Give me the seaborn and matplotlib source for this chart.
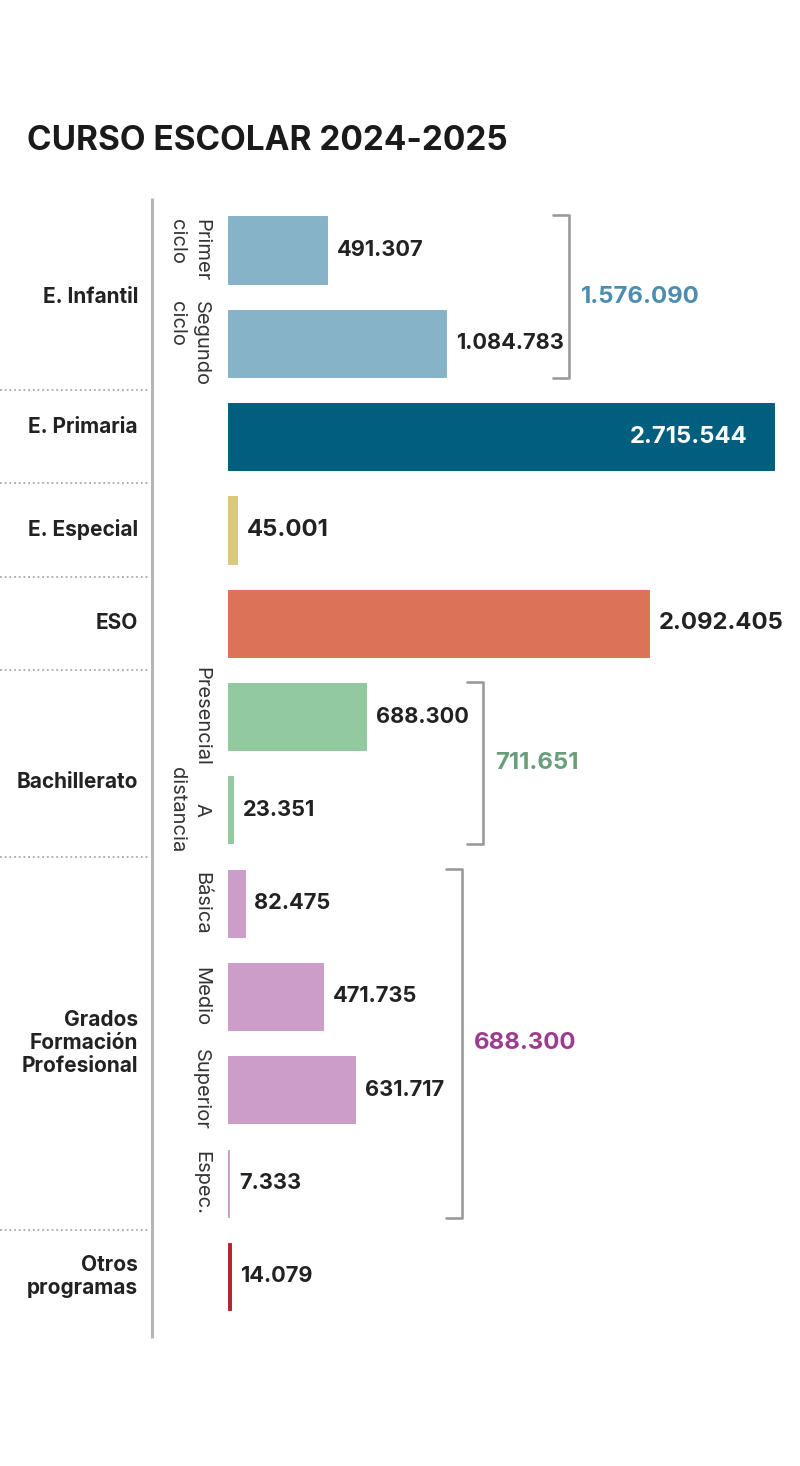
import matplotlib

matplotlib.use("Agg")

import matplotlib.pyplot as plt
import numpy as np
import pandas as pd
import seaborn as sns

# ============================================================
# DATA
# ============================================================

ROWS = [
    "Primer ciclo", "Segundo ciclo", "E. Primaria", "E. Especial", "ESO",
    "Presencial", "A distancia", "Básica", "Medio", "Superior", "Espec.",
    "Otros programas",
]
VALUES = [491307, 1084783, 2715544, 45001, 2092405,
          688300, 23351, 82475, 471735, 631717, 7333, 14079]
SUB_LABELS = ["Primer\nciclo", "Segundo\nciclo", "", "", "",
              "Presencial", "A\ndistancia", "Básica", "Medio", "Superior",
              "Espec.", ""]

GROUPS = ["E. Infantil", "E. Primaria", "E. Especial", "ESO", "Bachillerato",
          "Grados\nFormación\nProfesional", "Otros\nprogramas"]
GROUP_SIZES = [2, 1, 1, 1, 2, 4, 1]
GROUP_COLORS = ["#87b3c9", "#005f7e", "#d8c880", "#dc7357",
                "#92c9a0", "#cc9dc9", "#b3262c"]

# bracketed groups and the totals printed next to them
BRACKET_GROUPS = [0, 4, 5]
BRACKET_TOTALS = [1576090, 711651, 688300]
BRACKET_COLORS = ["#4a8db0", "#6a9e7b", "#9e3a8f"]

TITLE = "CURSO ESCOLAR 2024-2025"

# ============================================================
# LAYOUT
# ============================================================

W_PX, H_PX = 800, 1466
X0_PX = 228                      # pixel where bars start
PX_PER_UNIT = 546 / 2715544
BIG_ROWS = {"E. Primaria", "E. Especial", "ESO"}
INSIDE_ROWS = {"E. Primaria"}
GROUP_LABEL_NUDGE = [0.0, -0.1, 0.0, 0.0, 0.2, 0.0, 0.0]
BRACKET_GAP_PX = [5, 14, 18]
TEXT = "#222222"


def fmt(v):
    return f"{v:,}".replace(",", ".")


def main():
    sns.set_style("white")
    plt.rcParams["font.family"] = ["Inter", "DejaVu Sans"]

    row_group = np.repeat(np.arange(len(GROUPS)), GROUP_SIZES)
    df = pd.DataFrame({"row": ROWS, "value": VALUES, "group": row_group})
    palette = {r: GROUP_COLORS[g] for r, g in zip(ROWS, row_group)}

    fig = plt.figure(figsize=(W_PX / 100, H_PX / 100), dpi=100)
    fig.patch.set_facecolor("white")
    ax = fig.add_axes([0, 1 - 1338 / H_PX, 1, (1338 - 198) / H_PX])

    sns.barplot(data=df, x="value", y="row", hue="row", palette=palette,
                orient="h", width=0.72, saturation=1, legend=False,
                order=ROWS, hue_order=ROWS, ax=ax)
    # hairline edge so the thinnest bars stay visible
    for p in ax.patches:
        p.set_edgecolor(p.get_facecolor())
        p.set_linewidth(0.7)

    ax.set_xlim(-X0_PX / PX_PER_UNIT, (W_PX - X0_PX) / PX_PER_UNIT)
    ax.set_ylim(11.66, -0.557)
    ax.axis("off")

    ytr = ax.get_yaxis_transform()

    # left gray rule
    ax.plot([152 / W_PX, 152 / W_PX], [0, 1], transform=ax.transAxes,
            color="#b5b5b5", lw=2.2, clip_on=False, solid_capstyle="butt")

    # dotted separators between groups
    for y in np.cumsum(GROUP_SIZES)[:-1] - 0.5:
        ax.plot([0, 148 / W_PX], [y, y], transform=ytr, color="#a8a8a8",
                lw=1.3, linestyle=(0, (1, 1.6)), clip_on=False)

    # group labels
    starts = np.cumsum([0] + GROUP_SIZES[:-1])
    for name, s, n, dy in zip(GROUPS, starts, GROUP_SIZES, GROUP_LABEL_NUDGE):
        ax.text(138 / W_PX, s + (n - 1) / 2 + dy, name, transform=ytr,
                ha="right", va="center", multialignment="right",
                fontsize=15, fontweight="bold", color=TEXT, linespacing=1.2)

    # rotated sub labels
    for i, sub in enumerate(SUB_LABELS):
        if not sub:
            continue
        malign = "left" if "ciclo" in sub else "center"
        ax.text(210 / W_PX, i, sub, transform=ytr, rotation=-90,
                ha="right", va="center", multialignment=malign,
                fontsize=14.5, color="#333333", linespacing=1.4)

    # value labels
    value_texts = []
    for i, (r, v) in enumerate(zip(ROWS, VALUES)):
        size = 17.2 if r in BIG_ROWS else 15.7
        if r in INSIDE_ROWS:
            t = ax.annotate(fmt(v), xy=(v, i), xytext=(-19, 0),
                            textcoords="offset points", ha="right",
                            va="center", fontsize=size, fontweight="bold",
                            color="white")
        else:
            t = ax.annotate(fmt(v), xy=(v, i), xytext=(7, 0),
                            textcoords="offset points", ha="left",
                            va="center", fontsize=size, fontweight="bold",
                            color=TEXT)
        value_texts.append(t)

    # brackets with group totals
    fig.canvas.draw()
    renderer = fig.canvas.get_renderer()
    inv = ax.transData.inverted()
    tick = 16 / W_PX * (ax.get_xlim()[1] - ax.get_xlim()[0])
    for g, total, col, gap in zip(BRACKET_GROUPS, BRACKET_TOTALS,
                                  BRACKET_COLORS, BRACKET_GAP_PX):
        rows = np.where(row_group == g)[0]
        right = max(value_texts[k].get_window_extent(renderer).x1 for k in rows)
        xb = inv.transform((right + gap, 0))[0]
        top, bot = rows[0] - 0.37, rows[-1] + 0.37
        ax.plot([xb - tick, xb, xb, xb - tick], [top, top, bot, bot],
                color="#9a9a9a", lw=1.9, clip_on=False)
        ax.annotate(fmt(total), xy=(xb, (rows[0] + rows[-1]) / 2),
                    xytext=(9, 0), textcoords="offset points",
                    ha="left", va="center", fontsize=17.2, fontweight="bold",
                    color=col)

    fig.text(27 / W_PX, 1 - 141 / H_PX, TITLE, ha="left", va="center",
             fontsize=24, fontweight="bold", color="#1a1a1a")

    fig.savefig("out.png", dpi=100, facecolor="white")
    plt.close(fig)


if __name__ == "__main__":
    main()
